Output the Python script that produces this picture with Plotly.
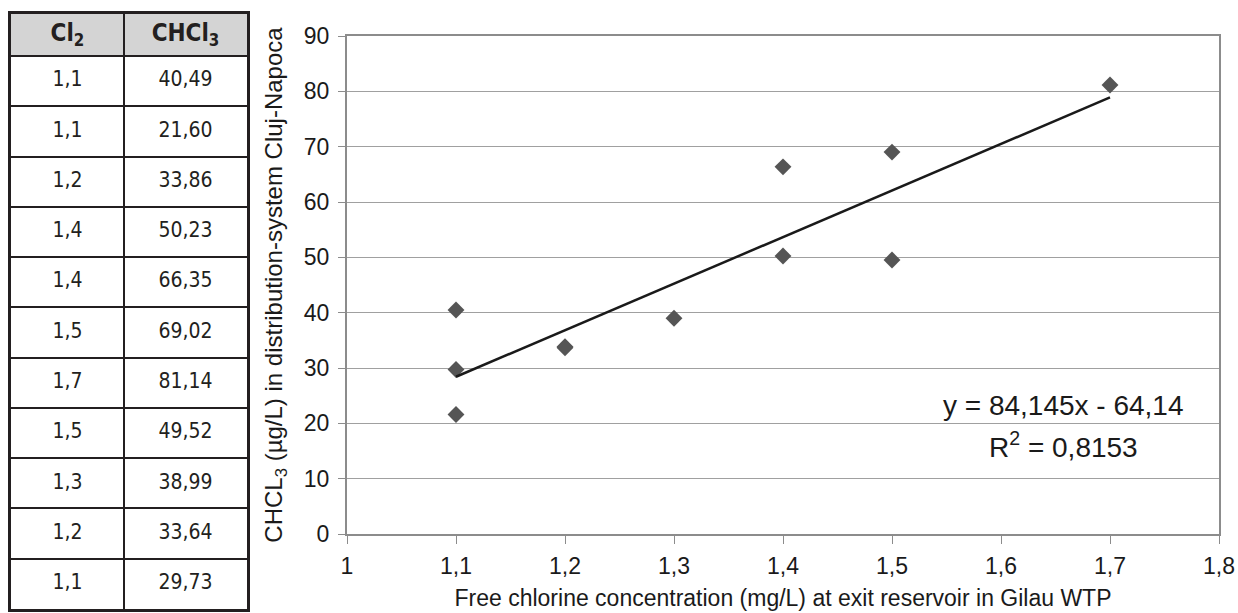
import plotly.graph_objects as go

# ---- data ----
cl2 = [1.1, 1.1, 1.2, 1.4, 1.4, 1.5, 1.7, 1.5, 1.3, 1.2, 1.1]
chcl3 = [40.49, 21.60, 33.86, 50.23, 66.35, 69.02, 81.14, 49.52, 38.99, 33.64, 29.73]
cl2_labels = ["1,1", "1,1", "1,2", "1,4", "1,4", "1,5", "1,7", "1,5", "1,3", "1,2", "1,1"]
chcl3_labels = ["40,49", "21,60", "33,86", "50,23", "66,35", "69,02", "81,14", "49,52", "38,99", "33,64", "29,73"]
table_headers = ["<b>Cl<sub>2</sub></b>", "<b>CHCl<sub>3</sub></b>"]
slope = 84.145
intercept = -64.14
trend_x = [min(cl2), max(cl2)]
equation_text = "y = 84,145x - 64,14"
r2_text = "R<sup>2</sup> = 0,8153"
x_title = "Free chlorine concentration (mg/L) at exit reservoir in Gilau WTP"
y_title = "CHCL<sub>3</sub> (µg/L) in distribution-system Cluj-Napoca"

W, H = 1238, 613

# table geometry (pixel units inside the table axes)
TBL_W, TBL_H = 236, 595
COL_SPLIT = 113
HEAD_H = 42
n_rows = len(cl2_labels)
row_h = (TBL_H - HEAD_H) / n_rows
row_bounds = [HEAD_H + k * row_h for k in range(n_rows)]
row_centers = [HEAD_H + (k + 0.5) * row_h for k in range(n_rows)]
col_centers = [COL_SPLIT / 2, (COL_SPLIT + TBL_W) / 2]

fig = go.Figure()

narrow = "DejaVu Sans Condensed, Liberation Sans Narrow, sans-serif"
ink = "#231f20"

# header fill
fig.add_shape(type="rect", xref="x2", yref="y2", x0=0, x1=TBL_W, y0=0, y1=HEAD_H,
              fillcolor="#d4d4d4", line=dict(width=0), layer="below")

# header text
fig.add_trace(go.Scatter(
    x=col_centers, y=[HEAD_H / 2] * 2, xaxis="x2", yaxis="y2",
    mode="text", text=table_headers, textposition="middle center",
    textfont=dict(family=narrow, size=24, color=ink),
    hoverinfo="skip", showlegend=False,
))
# cell text
fig.add_trace(go.Scatter(
    x=[col_centers[0]] * n_rows, y=row_centers, xaxis="x2", yaxis="y2",
    mode="text", text=cl2_labels, textposition="middle center",
    textfont=dict(family=narrow, size=21, color=ink),
    hoverinfo="skip", showlegend=False,
))
fig.add_trace(go.Scatter(
    x=[col_centers[1]] * n_rows, y=row_centers, xaxis="x2", yaxis="y2",
    mode="text", text=chcl3_labels, textposition="middle center",
    textfont=dict(family=narrow, size=21, color=ink),
    hoverinfo="skip", showlegend=False,
))

# ---- scatter chart ----
fig.add_trace(go.Scatter(
    x=cl2, y=chcl3, mode="markers",
    marker=dict(symbol="diamond", size=13, color="#555555"),
    showlegend=False, hoverinfo="x+y",
))
fig.add_trace(go.Scatter(
    x=trend_x, y=[slope * v + intercept for v in trend_x], mode="lines",
    line=dict(color="#1a1a1a", width=2.5),
    showlegend=False, hoverinfo="skip",
))

ann_font = dict(family="Liberation Sans, Arial, sans-serif", size=28, color="#1a1a1a")
fig.add_annotation(x=1.657, y=23.3, xref="x", yref="y", text=equation_text,
                   showarrow=False, font=ann_font, xanchor="center", yanchor="middle")
fig.add_annotation(x=1.657, y=16.1, xref="x", yref="y", text=r2_text,
                   showarrow=False, font=ann_font, xanchor="center", yanchor="middle")

tick_font = dict(family="Liberation Sans, Arial, sans-serif", size=23, color="#1a1a1a")
axis_grey = "#8c8c8c"

fig.update_layout(
    width=W, height=H,
    margin=dict(l=0, r=0, t=0, b=0),
    paper_bgcolor="white", plot_bgcolor="white",
    separators=", ",
    showlegend=False,
    xaxis=dict(
        domain=[347 / W, 1219 / W], anchor="y",
        range=[1, 1.8], dtick=0.1, tick0=1,
        showgrid=False, zeroline=False, automargin=False,
        showline=True, linecolor=axis_grey, linewidth=2, mirror=True,
        ticks="outside", ticklen=8, tickcolor=axis_grey, tickwidth=1,
        ticklabelstandoff=2,
        tickfont=tick_font,
        title=dict(text=x_title, standoff=12,
                   font=dict(family="Liberation Sans, Arial, sans-serif", size=23, color="#1a1a1a")),
    ),
    yaxis=dict(
        domain=[1 - 534 / H, 1 - 36 / H], anchor="x",
        range=[0, 90], dtick=10,
        showgrid=True, gridcolor="#a0a0a0", gridwidth=1,
        zeroline=False, automargin=False,
        showline=True, linecolor=axis_grey, linewidth=2, mirror=True,
        ticks="outside", ticklen=7, tickcolor=axis_grey, tickwidth=1,
        ticklabelstandoff=4,
        tickfont=tick_font,
        title=dict(text=y_title, standoff=14,
                   font=dict(family="Liberation Sans, Arial, sans-serif", size=24, color="#1a1a1a")),
    ),
    xaxis2=dict(
        domain=[11 / W, 247 / W], anchor="y2", range=[0, TBL_W],
        tickvals=[COL_SPLIT], showgrid=True, gridcolor=ink, gridwidth=1.5,
        showticklabels=False, ticks="", zeroline=False, automargin=False,
        showline=True, linecolor=ink, linewidth=3, mirror=True, fixedrange=True,
    ),
    yaxis2=dict(
        domain=[1 - 609 / H, 1 - 14 / H], anchor="x2", range=[TBL_H, 0],
        tickvals=row_bounds, showgrid=True, gridcolor=ink, gridwidth=1.5,
        showticklabels=False, ticks="", zeroline=False, automargin=False,
        showline=True, linecolor=ink, linewidth=3, mirror=True, fixedrange=True,
    ),
)

fig.write_html("out.html", config={"displayModeBar": False},
               post_script="document.body.style.margin='0px';")
